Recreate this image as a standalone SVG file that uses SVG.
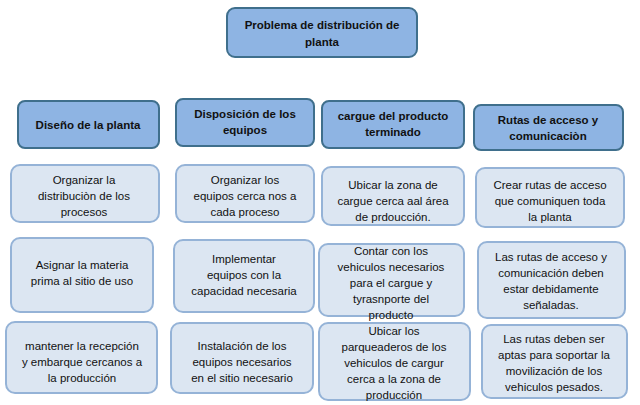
<svg xmlns="http://www.w3.org/2000/svg" width="640" height="405" viewBox="0 0 640 405">
<style>
.h rect{fill:#8EB4E3;stroke:#3F6F8C;stroke-width:2}
.b rect{fill:#DCE6F2;stroke:#95B3D7;stroke-width:2}
text{font-family:"Liberation Sans",Arial,sans-serif;fill:#111;text-anchor:middle}
.h text{font-size:11.5px;font-weight:bold}
.b text{font-size:11.5px}
</style>
<rect width="640" height="405" fill="#fff"/>
<g id="top" class="h"><rect x="227" y="8" width="190" height="49" rx="8"/><text x="322" y="29">Problema de distribución de</text><text x="322" y="46">planta</text></g>
<g id="h1" class="h"><rect x="18" y="101" width="141" height="47" rx="7"/><text x="88" y="129">Diseño de la  planta</text></g>
<g id="h2" class="h"><rect x="176" y="99" width="138" height="47" rx="7"/><text x="245" y="118">Disposición de los</text><text x="245" y="134">equipos</text></g>
<g id="h3" class="h"><rect x="322" y="101" width="142" height="47" rx="7"/><text x="393" y="120">cargue del producto</text><text x="393" y="136">terminado</text></g>
<g id="h4" class="h"><rect x="474" y="105" width="149" height="45" rx="7"/><text x="548" y="124">Rutas de acceso y</text><text x="548" y="140">comunicaciòn</text></g>
<g id="r1c1" class="b"><rect x="11" y="165" width="148" height="57" rx="9"/><text x="84" y="184">Organizar la</text><text x="84" y="200">distribuciòn de los</text><text x="84" y="216">procesos</text></g>
<g id="r1c2" class="b"><rect x="176" y="165" width="138" height="57" rx="9"/><text x="245" y="184">Organizar los</text><text x="245" y="200">equipos cerca nos a</text><text x="245" y="216">cada proceso</text></g>
<g id="r1c3" class="b"><rect x="322" y="167" width="142" height="58" rx="9"/><text x="393" y="189">Ubicar la zona de</text><text x="393" y="205">cargue  cerca aal área</text><text x="393" y="221">de prdoucción.</text></g>
<g id="r1c4" class="b"><rect x="476" y="168" width="148" height="59" rx="9"/><text x="550" y="189">Crear rutas de acceso</text><text x="550" y="205">que comuniquen toda</text><text x="550" y="221">la planta</text></g>
<g id="r2c1" class="b"><rect x="11" y="238" width="142" height="74" rx="9"/><text x="82" y="269">Asignar la materia</text><text x="82" y="285">prima  al sitio de uso</text></g>
<g id="r2c2" class="b"><rect x="174" y="240" width="140" height="72" rx="9"/><text x="244" y="263">Implementar</text><text x="244" y="279">equipos con la</text><text x="244" y="295">capacidad necesaria</text></g>
<g id="r2c3" class="b"><rect x="319" y="244" width="145" height="72" rx="9"/><text x="391" y="255">Contar con los</text><text x="391" y="271">vehiculos necesarios</text><text x="391" y="287">para el cargue y</text><text x="391" y="303">tyrasnporte del</text><text x="391" y="319">producto</text></g>
<g id="r2c4" class="b"><rect x="478" y="242" width="147" height="76" rx="9"/><text x="551" y="261">Las rutas de acceso y</text><text x="551" y="277">comunicación deben</text><text x="551" y="293">estar debidamente</text><text x="551" y="309">señaladas.</text></g>
<g id="r3c1" class="b"><rect x="6" y="322" width="151" height="71" rx="9"/><text x="82" y="350">mantener la recepción</text><text x="82" y="366">y embarque cercanos a</text><text x="82" y="382">la producción</text></g>
<g id="r3c2" class="b"><rect x="171" y="323" width="142" height="70" rx="9"/><text x="242" y="350">Instalación de los</text><text x="242" y="366">equipos necesarios</text><text x="242" y="382">en el sitio necesario</text></g>
<g id="r3c3" class="b"><rect x="319" y="323" width="151" height="77" rx="9"/><text x="394" y="335">Ubicar los</text><text x="394" y="351">parqueaderos de los</text><text x="394" y="367">vehiculos de cargur</text><text x="394" y="383">cerca a la zona de</text><text x="394" y="399">producción</text></g>
<g id="r3c4" class="b"><rect x="482" y="325" width="145" height="73" rx="9"/><text x="554" y="343">Las rutas deben ser</text><text x="554" y="359">aptas para soportar la</text><text x="554" y="375">movilización de los</text><text x="554" y="391">vehiculos pesados.</text></g>
<g id="connectors"/>
</svg>
